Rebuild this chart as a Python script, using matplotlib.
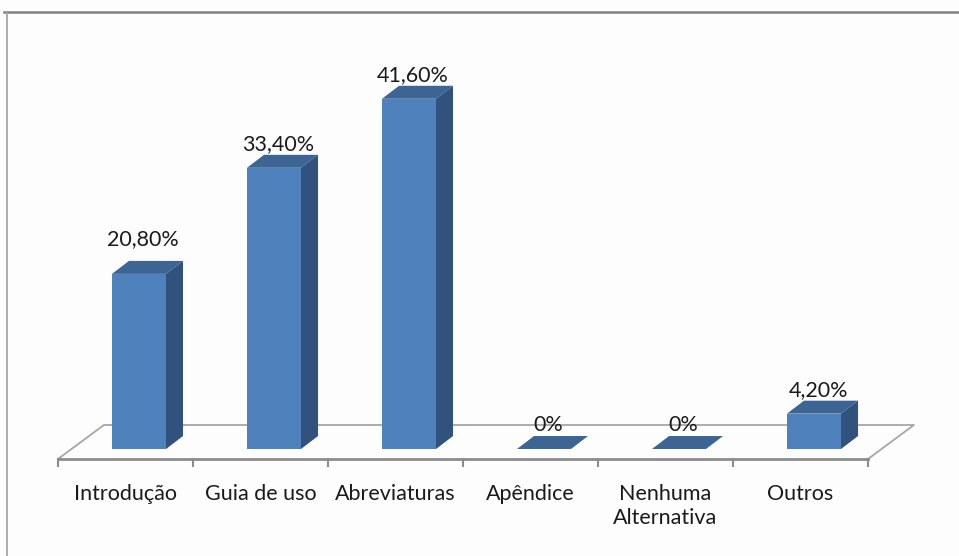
import matplotlib.pyplot as plt
from matplotlib.patches import Polygon
import numpy as np

categorias = ['Introdução', 'Guia de uso', 'Abreviaturas', 'Apêndice', 'Nenhuma\nAlternativa', 'Outros']
valores = [20.8, 33.4, 41.6, 0.0, 0.0, 4.2]
rotulos = ['20,80%', '33,40%', '41,60%', '0%', '0%', '4,20%']

plt.rcParams['font.family'] = ['Lato', 'DejaVu Sans']

fig = plt.figure(figsize=(9.59, 5.56), dpi=100)
fig.patch.set_facecolor('#fdfdfd')
ax = fig.add_axes([0, 0, 1, 1])
ax.set_xlim(-0.9296, 6.174)
ax.set_ylim(-12.71, 53.33)
ax.axis('off')

# "3D" geometry (category units / percent units)
bar_w = 0.4
bar_off = 0.1
dx, dy = 0.126, 1.54        # bar depth
fdx, fdy = 0.34, 4.04       # floor depth
f_front = -1.19
n = len(categorias)
x = np.arange(n)

# floor
x0, x1 = -0.5, n - 0.5
ax.plot([x0, x0 + fdx, x1 + fdx, x1], [f_front, f_front + fdy, f_front + fdy, f_front],
        color='#a6a6a6', lw=1.3, zorder=1)
ax.plot([x0, x1], [f_front, f_front], color='#8c8c8c', lw=2, zorder=1)
for b in np.arange(n + 1) - 0.5:
    ax.plot([b, b], [f_front, f_front - 0.85], color='#8c8c8c', lw=1.5, zorder=1)

front_c = '#4f81bd'
top_c = '#3c6594'
side_c = '#30527c'

ax.bar(x + bar_off, valores, width=bar_w, color=front_c, zorder=3)
for xi, v in zip(x, valores):
    l = xi + bar_off - bar_w / 2
    r = l + bar_w
    top = Polygon([(l, v), (l + dx, v + dy), (r + dx, v + dy), (r, v)],
                  closed=True, fc=top_c, ec='none', zorder=3)
    side = Polygon([(r, 0), (r + dx, dy), (r + dx, v + dy), (r, v)],
                   closed=True, fc=side_c, ec='none', zorder=3)
    ax.add_patch(top)
    ax.add_patch(side)

nudge = [1.3, 0, 0, 0, 0, 0]
for xi, v, t, nd in zip(x, valores, rotulos, nudge):
    ax.text(xi + bar_off + 0.03, v + dy + 1.3 + nd, t, ha='center', va='center',
            fontsize=15.5, color='#1a1a1a', zorder=4)

for xi, c in zip(x, categorias):
    ax.text(xi, -4.1, c, ha='center', va='top', fontsize=15.5, color='#1a1a1a',
            linespacing=1.3)

# chart border
fig.add_artist(plt.Line2D([0.004, 1], [1 - 11.5 / 556, 1 - 11.5 / 556],
                          transform=fig.transFigure, color='#808080', lw=1.8))
fig.add_artist(plt.Line2D([6.5 / 959, 6.5 / 959], [0, 1 - 11.5 / 556],
                          transform=fig.transFigure, color='#a0a0a0', lw=1.2))

fig.savefig('out.png', dpi=100, facecolor=fig.get_facecolor())
